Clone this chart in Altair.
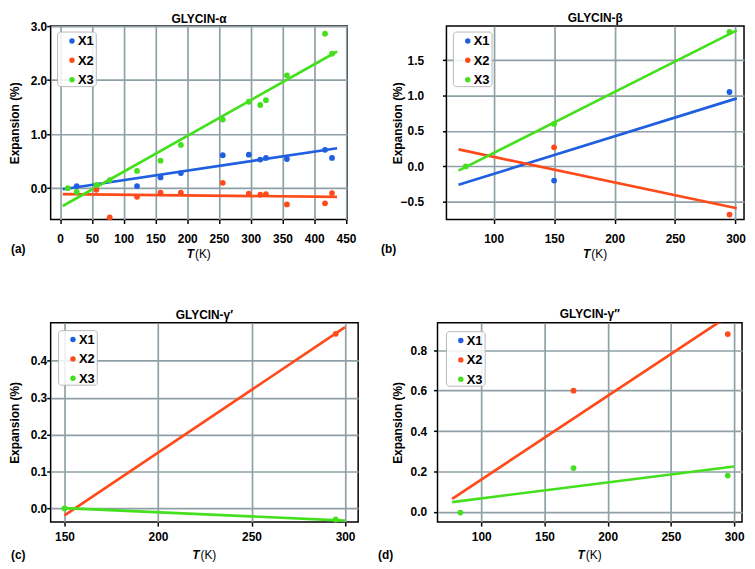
import altair as alt
import pandas as pd

FONT = "Liberation Sans"
SERIES = ["X1", "X2", "X3"]
COLORS = ["#1f5fe0", "#ff4a1a", "#44e01e"]

# ---------- panel (a) GLYCIN-alpha ----------
A_T1 = [26, 121, 158, 190, 256, 297, 315, 324, 357, 417, 428]
A_X1 = [0.04, 0.04, 0.20, 0.28, 0.61, 0.62, 0.53, 0.56, 0.54, 0.71, 0.56]
A_T2 = [57, 78, 121, 158, 190, 256, 297, 315, 324, 357, 417, 428]
A_X2 = [-0.03, -0.54, -0.16, -0.08, -0.08, 0.10, -0.10, -0.12, -0.11, -0.30, -0.28, -0.09]
A_T3 = [12, 26, 57, 78, 121, 158, 190, 256, 297, 315, 324, 357, 417, 428]
A_X3 = [0.00, -0.07, 0.06, 0.15, 0.32, 0.51, 0.80, 1.27, 1.60, 1.54, 1.63, 2.09, 2.86, 2.49]
A_FIT_T = [4, 436]
A_FIT_X1 = [-0.02, 0.74]
A_FIT_X2 = [-0.11, -0.16]
A_FIT_X3 = [-0.33, 2.53]

# ---------- panel (b) GLYCIN-beta ----------
B_T1 = [150, 295]
B_X1 = [-0.20, 1.05]
B_T2 = [150, 295]
B_X2 = [0.27, -0.68]
B_T3 = [77, 150, 295]
B_X3 = [0.00, 0.60, 1.90]
B_FIT_T = [71, 301]
B_FIT_X1 = [-0.26, 0.96]
B_FIT_X2 = [0.24, -0.59]
B_FIT_X3 = [-0.06, 1.92]

# ---------- panel (c) GLYCIN-gamma' ----------
C_T2 = [295]
C_X2 = [0.473]
C_T3 = [150, 295]
C_X3 = [0.00, -0.03]
C_FIT_T = [150, 300]
C_FIT_X2 = [-0.019, 0.491]
C_FIT_X3 = [0.001, -0.033]

# ---------- panel (d) GLYCIN-gamma'' ----------
D_T2 = [173, 295]
D_X2 = [0.60, 0.88]
D_T3 = [83.5, 173, 295]
D_X3 = [-0.003, 0.217, 0.18]
D_FIT_T = [77, 300]
D_FIT_X2 = [0.065, 0.988]
D_FIT_X3 = [0.049, 0.225]


def frame(pairs):
    rows = []
    for s, ts, vs in pairs:
        for t, v in zip(ts, vs):
            rows.append({"T": t, "E": v, "S": s})
    return pd.DataFrame(rows, columns=["T", "E", "S"])


def one():
    return pd.DataFrame({"t": [""]})


def txt(text, x, y, weight="bold", size=12, **kw):
    return alt.Chart(pd.DataFrame({"t": [text]})).mark_text(
        font=FONT, fontSize=size, fontWeight=weight, color="black", **kw
    ).encode(text="t:N", x=alt.value(x), y=alt.value(y))


def legend_layers(lx, ly):
    out = [alt.Chart(one()).mark_rect(
        fill="white", fillOpacity=0.85, stroke="#b8b8b8", strokeWidth=1,
        cornerRadius=3).encode(
        x=alt.value(lx), x2=alt.value(lx + 39), y=alt.value(ly), y2=alt.value(ly + 55))]
    for i, (s, c) in enumerate(zip(SERIES, COLORS)):
        yy = ly + 9 + 19.5 * i
        out.append(alt.Chart(one()).mark_circle(size=30, opacity=1, color=c).encode(
            x=alt.value(lx + 14.5), y=alt.value(yy)))
        out.append(txt(s, lx + 20.5, yy + 0.5, size=13, align="left", baseline="middle"))
    return out


def panel(points, fits, xdom, ydom, xticks, yticks, yfmt, title, label,
          w, h, lab_pad, ytitle_x, label_x, xt_dy, lab_dy, xlab_pad, lx, ly, toff):
    xs = alt.Scale(domain=xdom, nice=False, zero=False)
    ys = alt.Scale(domain=ydom, nice=False, zero=False)
    cs = alt.Scale(domain=SERIES, range=COLORS)
    x = alt.X("T:Q", scale=xs,
              axis=alt.Axis(values=xticks, format="d", title=None, labelPadding=xlab_pad))
    y = alt.Y("E:Q", scale=ys,
              axis=alt.Axis(values=yticks, format=yfmt, title="Expansion (%)",
                            labelPadding=lab_pad, titleX=ytitle_x, titleY=h / 2,
                            titleBaseline="middle", titleAlign="center"))
    lines = alt.Chart(fits).mark_line(strokeWidth=2.7, clip=True).encode(
        x=x, y=y, stroke=alt.Stroke("S:N", scale=cs, legend=None), detail="S:N",
    )
    pts = alt.Chart(points).mark_circle(size=34, opacity=1).encode(
        x=x, y=y, color=alt.Color("S:N", scale=cs, legend=None),
    )
    layers = [lines, pts,
              txt(label, label_x, h + lab_dy, align="left", baseline="middle"),
              txt("T", w / 2 - 5, h + xt_dy, align="right", baseline="middle",
                  fontStyle="italic"),
              txt("(K)", w / 2 - 4, h + xt_dy, weight="normal", align="left",
                  baseline="middle")] + legend_layers(lx, ly)
    return alt.layer(*layers).properties(
        width=w, height=h,
        title=alt.Title(title, fontSize=12, fontWeight="bold", font=FONT,
                        offset=toff, color="black", frame="group"),
    )


pa = panel(
    frame([("X1", A_T1, A_X1), ("X2", A_T2, A_X2), ("X3", A_T3, A_X3)]),
    frame([("X1", A_FIT_T, A_FIT_X1), ("X2", A_FIT_T, A_FIT_X2), ("X3", A_FIT_T, A_FIT_X3)]),
    [-15, 452], [-0.58, 3.0], list(range(0, 451, 50)), [0, 1, 2, 3], ".1f",
    "GLYCIN-α", "(a)", 299, 195, 0, -36, -40, 35, 30, 10, 7, 6, -5.5,
)
pb = panel(
    frame([("X1", B_T1, B_X1), ("X2", B_T2, B_X2), ("X3", B_T3, B_X3)]),
    frame([("X1", B_FIT_T, B_FIT_X1), ("X2", B_FIT_T, B_FIT_X2), ("X3", B_FIT_T, B_FIT_X3)]),
    [61, 307], [-0.75, 1.98], [100, 150, 200, 250, 300], [-0.5, 0, 0.5, 1.0, 1.5], ".1f",
    "GLYCIN-β", "(b)", 300, 195, 19, -49, -66, 35, 30, 10, 7, 6, 1.5,
)
pc = panel(
    frame([("X2", C_T2, C_X2), ("X3", C_T3, C_X3)]),
    frame([("X2", C_FIT_T, C_FIT_X2), ("X3", C_FIT_T, C_FIT_X3)]),
    [142.6, 307], [-0.037, 0.503], [150, 200, 250, 300], [0, 0.1, 0.2, 0.3, 0.4], ".1f",
    "GLYCIN-γ′", "(c)", 310, 201, 0, -36, -40, 33, 33, 6, 8, 8, 1,
)
pd_ = panel(
    frame([("X2", D_T2, D_X2), ("X3", D_T3, D_X3)]),
    frame([("X2", D_FIT_T, D_FIT_X2), ("X3", D_FIT_T, D_FIT_X3)]),
    [65.4, 306.3], [-0.05, 0.936], [100, 150, 200, 250, 300], [0, 0.2, 0.4, 0.6, 0.8], ".1f",
    "GLYCIN-γ′′", "(d)", 307, 201, 7, -40, -60, 33, 33, 6, 9, 9, 2,
)

row1 = alt.hconcat(pa, pb, spacing=23).resolve_scale(color="independent", stroke="independent")
row2 = alt.hconcat(pc, pd_, spacing=18).resolve_scale(color="independent", stroke="independent")

chart = alt.vconcat(row1, row2, spacing=46).resolve_scale(
    color="independent", stroke="independent").properties(
    padding=0, background="white"
).configure_axis(
    labelFont=FONT, labelFontSize=12, labelFontWeight="bold", labelColor="black",
    titleFont=FONT, titleFontSize=12, titleFontWeight="bold", titleColor="black",
    grid=True, gridColor="#8fa0a6", gridWidth=1.7, domain=False,
    tickColor="black", tickSize=4, tickWidth=1.5,
).configure_view(
    stroke="black", strokeWidth=1.5
).configure_title(font=FONT, anchor="middle")

chart.save("out.html", embed_options={"renderer": "svg", "actions": False})
